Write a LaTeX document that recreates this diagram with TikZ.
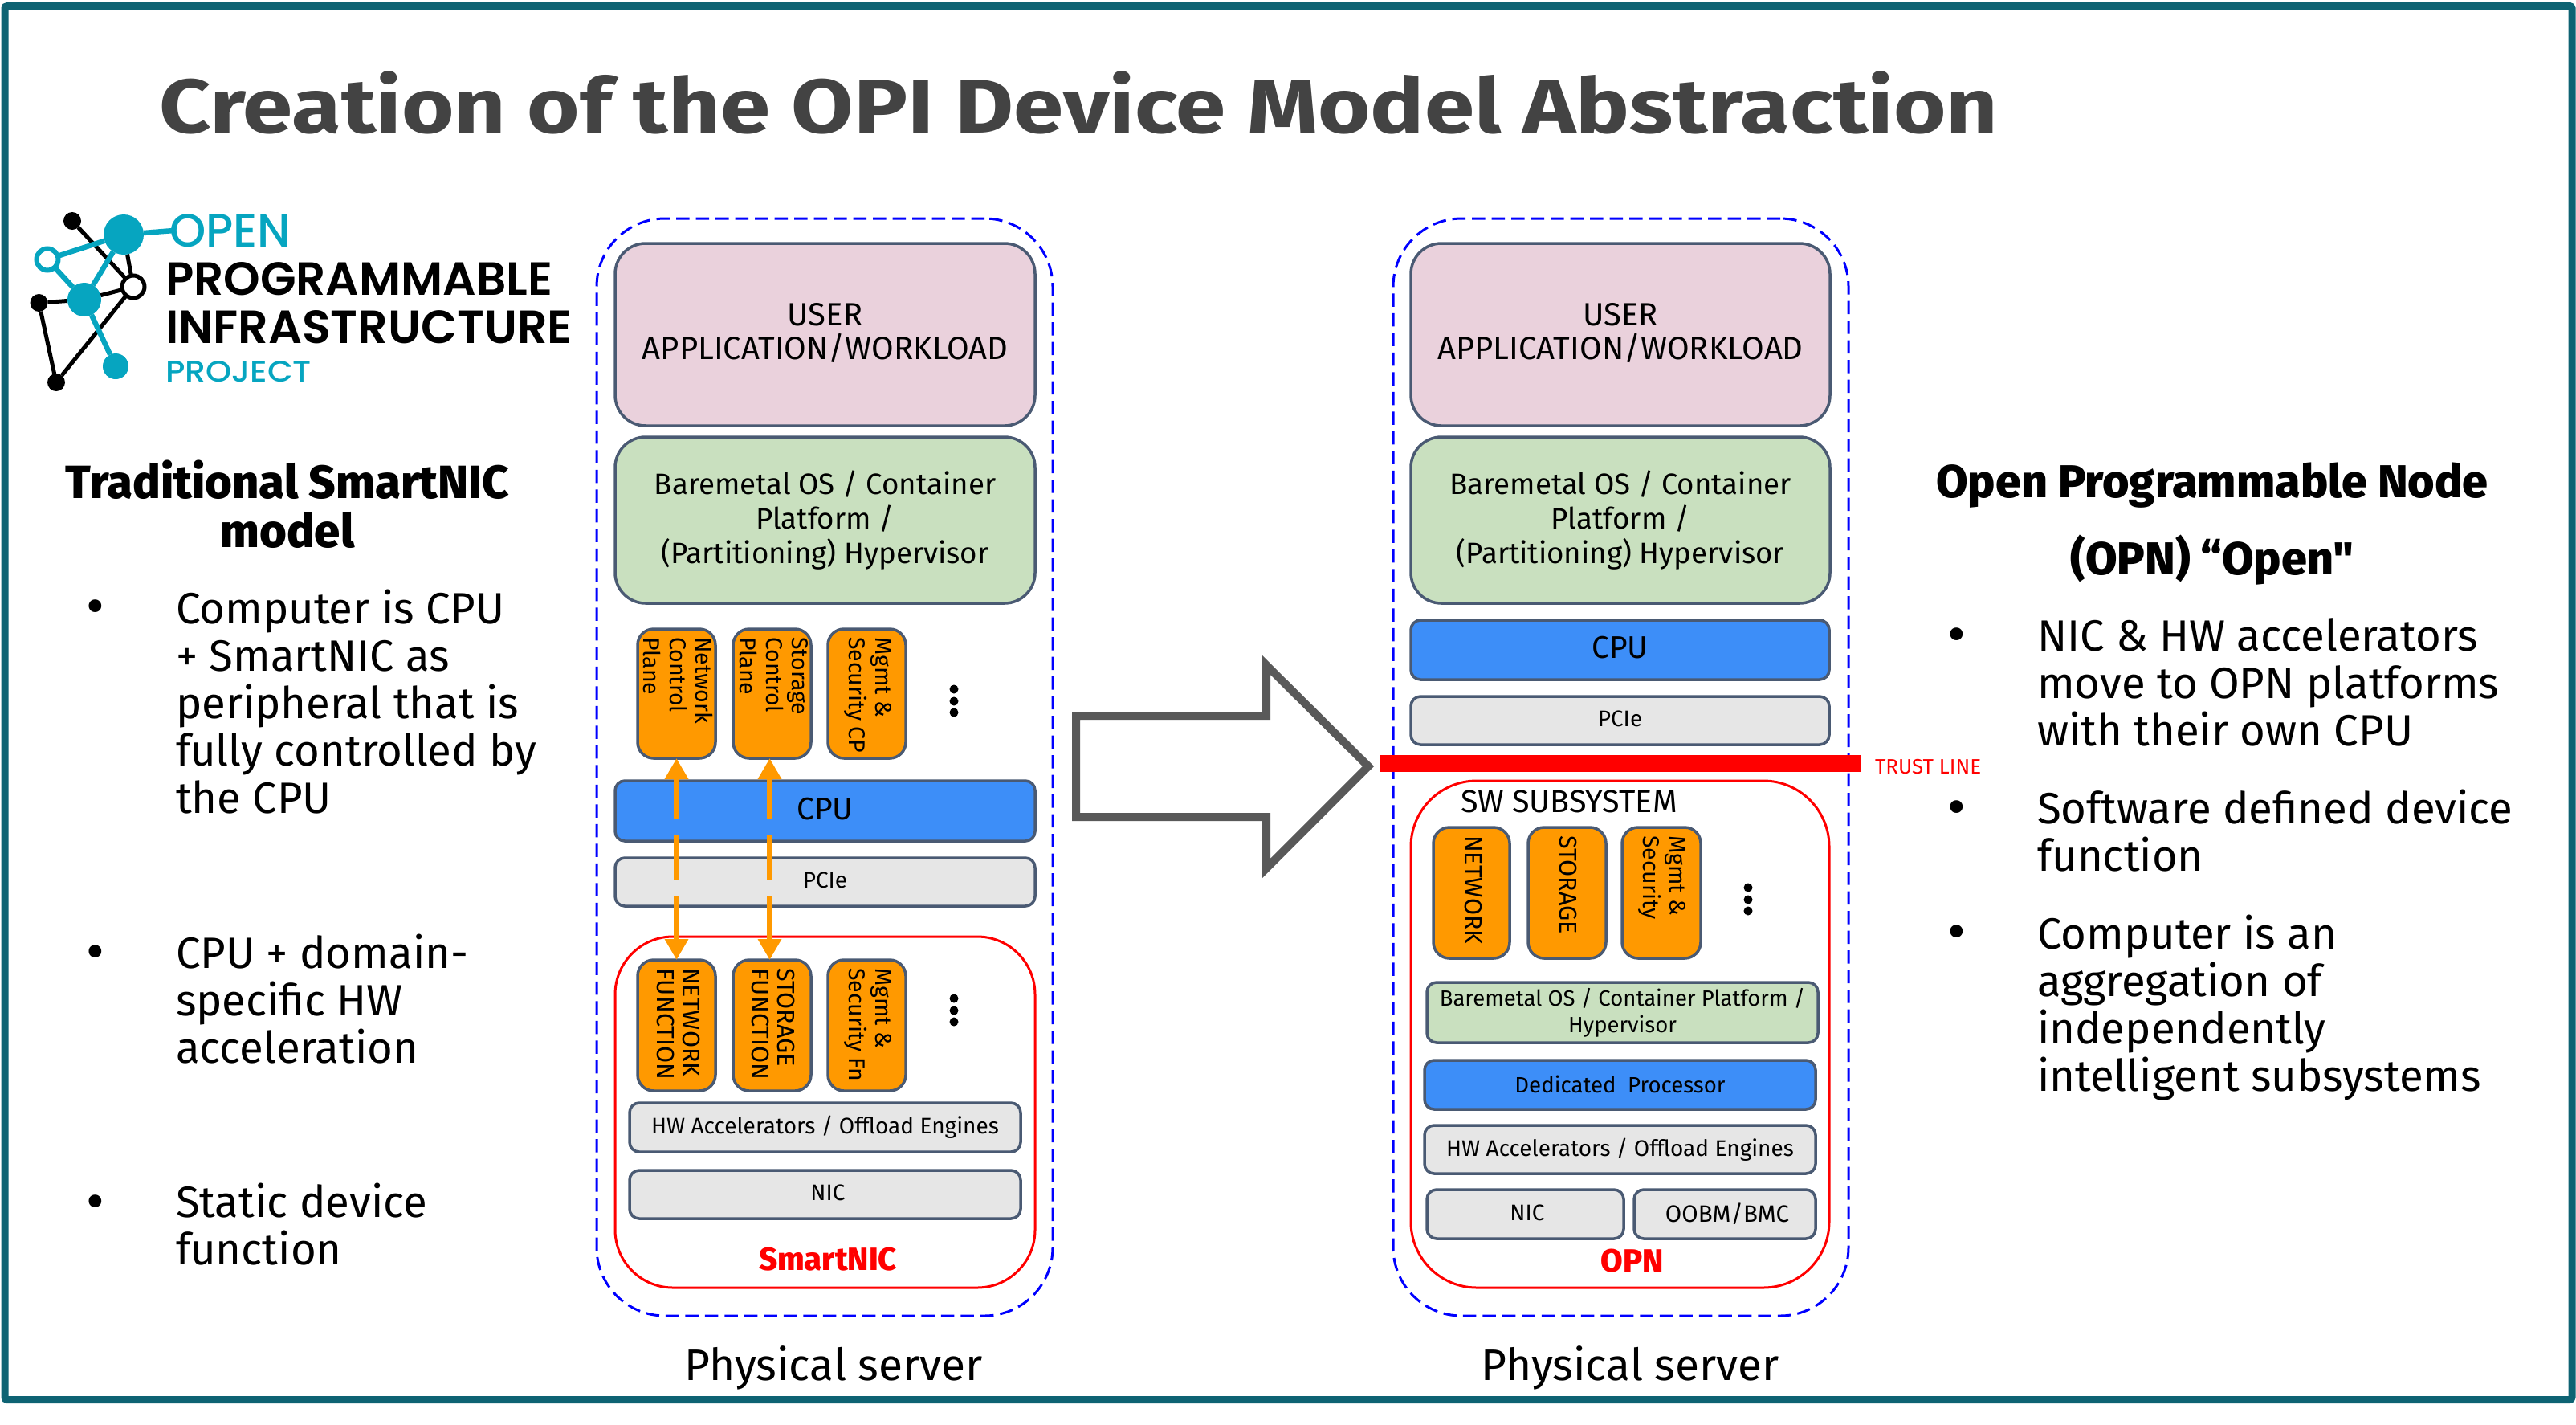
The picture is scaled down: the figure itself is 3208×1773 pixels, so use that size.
\documentclass[tikz,border=0pt]{standalone}
\usepackage{fontspec}
\usepackage{graphicx}
\usetikzlibrary{arrows.meta,backgrounds}
\setmainfont{Fira Sans}
\newfontfamily\headf{Fira Sans ExtraBold}
\newfontfamily\logofont{Poppins Medium}
\newfontfamily\logobold{Poppins SemiBold}
\definecolor{frameteal}{HTML}{0E6373}
\definecolor{titlegray}{HTML}{434343}
\definecolor{slate}{HTML}{4A5A73}
\definecolor{userpink}{HTML}{EAD1DC}
\definecolor{osgreen}{HTML}{C9E0BF}
\definecolor{cpublue}{HTML}{3D8EF8}
\definecolor{fnorange}{HTML}{FF9900}
\definecolor{hwgray}{HTML}{E6E6E6}
\definecolor{arrowgray}{HTML}{595959}
\definecolor{logoteal}{HTML}{06A5C0}
\newcommand{\fsz}[2]{\fontsize{#1}{#2}\selectfont}
\newcommand{\pbox}[7]{\node[#2,minimum width={(#5-#3)*1pt},minimum height={(#6-#4)*1pt}] (#1) at ({(#3+#5)/2},{(#4+#6)/2}) {#7};}
\newcommand{\up}[2]{\raisebox{#1pt}{#2}}
\newcommand{\fitwh}[3]{\resizebox{#1pt}{#2pt}{#3}}
\tikzset{
  every node/.style={inner sep=0pt,outer sep=0pt},
  serverbox/.style={draw=blue,line width=3pt,rounded corners=85pt,dash pattern=on 16.5pt off 8pt},
  redbox/.style={draw=red,line width=3pt,rounded corners=72pt},
  layer/.style={draw=slate,line width=3.5pt,align=center},
  userlayer/.style={layer,fill=userpink,rounded corners=38pt,font=\fsz{40}{44}},
  oslayer/.style={layer,fill=osgreen,rounded corners=38pt,font=\fsz{36.7}{43}},
  cpulayer/.style={layer,fill=cpublue,rounded corners=12pt,font=\fsz{39}{44}},
  graylayer/.style={layer,fill=hwgray,rounded corners=12pt,font=\fsz{28}{32}},
  smallgreen/.style={layer,fill=osgreen,rounded corners=12pt,font=\fsz{27.5}{33}},
  smallblue/.style={layer,fill=cpublue,rounded corners=12pt,font=\fsz{27.6}{33}},
  fnbox/.style={layer,fill=fnorange,rounded corners=20pt},
  fntext/.style={rotate=-90,anchor=west,align=left,font=\fsz{30.5}{32.5}},
  fnlower/.style={fntext,font=\fsz{28.5}{32.5}},
  vdot/.style={circle,fill=black,minimum size=11pt},
  flow/.style={draw=fnorange,line width=7pt,dash pattern=on 55pt off 20.5pt,{Triangle[length=26pt,width=28pt]}-{Triangle[length=26pt,width=28pt]}},
  bigarrow/.style={draw=arrowgray,line width=10pt,miter limit=10,fill=white},
  headtext/.style={font=\headf\fsz{58}{60},align=center},
  bodytext/.style={anchor=west,align=left,font=\fsz{54.5}{59}},
  bullettext/.style={anchor=base,font=\fsz{70}{74}},
  blackdot/.style={circle,fill=black,minimum size=22pt},
  tealdot/.style={circle,fill=logoteal},
  tealring/.style={circle,draw=logoteal,fill=white,line width=6pt,minimum size=27pt},
  blackring/.style={circle,draw=black,fill=white,line width=5pt,minimum size=28pt},
  blackedge/.style={draw=black,line width=5pt},
  tealedge/.style={draw=logoteal,line width=6.5pt},
}
\begin{document}
\begin{tikzpicture}[x=1pt,y=-1pt]
\useasboundingbox (0,0) rectangle (3208,1773);
\node[draw=frameteal,line width=9pt,rounded corners=3pt,minimum width=3197pt,minimum height=1735pt] (frame) at (1604.5,875) {};
\node[anchor=base west,text=titlegray,font=\bfseries\fsz{100}{110}] (title) at (198,165) {\fitwh{2290}{77}{Creation of the OPI Device Model Abstraction}};

% logo
\node[blackdot] (l1) at (90,275) {};
\node[tealdot,minimum size=50pt] (l2) at (154,292) {};
\node[tealring] (l3) at (59,323) {};
\node[blackring] (l4) at (166,357) {};
\node[tealdot,minimum size=42pt] (l5) at (105,373) {};
\node[blackdot] (l6) at (48.5,377) {};
\node[tealdot,minimum size=32pt] (l7) at (144,456) {};
\node[blackdot] (l8) at (70,476) {};
\coordinate (l9) at (216,287);
\begin{pgfonlayer}{background}
\draw[blackedge] (l1) -- (l4);
\draw[blackedge] (l2) -- (l4);
\draw[blackedge] (l4) -- (l5);
\draw[blackedge] (l5) -- (l6);
\draw[blackedge] (l6) -- (l8);
\draw[blackedge] (l8) -- (l4);
\draw[tealedge] (l2) -- (l3);
\draw[tealedge] (l2) -- (l5);
\draw[tealedge] (l3) -- (l5);
\draw[tealedge] (l5) -- (l7);
\draw[tealedge] (l2) -- (l9);
\end{pgfonlayer}
\node[anchor=base west,text=logoteal,font=\logofont\fsz{56}{60}] (lt1) at (211,307) {\fitwh{151}{41}{OPEN}};
\node[anchor=base west,font=\logobold\fsz{56}{60}] (lt2) at (206,367) {\fitwh{482}{41}{PROGRAMMABLE}};
\node[anchor=base west,font=\logobold\fsz{56}{60}] (lt3) at (206,427) {\fitwh{507}{41}{INFRASTRUCTURE}};
\node[anchor=base west,text=logoteal,font=\logofont\fsz{36}{40}] (lt4) at (206,475) {\fitwh{182}{26}{PROJECT}};

% left text
\node[headtext] (lh) at (358,628) {Traditional SmartNIC\\[1pt]model};
\node[bullettext] (lb1) at (119,778) {•};
\node[bodytext] (lp1) at (219,873.5) {Computer is CPU\\+ SmartNIC as\\peripheral that is\\fully controlled by\\the CPU};
\node[bullettext] (lb2) at (119,1208) {•};
\node[bodytext] (lp2) at (219,1243.5) {CPU + domain-\\specific HW\\acceleration};
\node[bullettext] (lb3) at (119,1519) {•};
\node[bodytext] (lp3) at (219,1524.5) {Static device\\function};

% left server
\pbox{srvL}{serverbox}{743}{272}{1311}{1638}{}
\pbox{nicL}{redbox}{766}{1166}{1289}{1603}{}
\pbox{userL}{userlayer}{766}{303}{1289}{530}{\up{8}{\shortstack{USER\\[6pt]APPLICATION/WORKLOAD}}}
\pbox{osL}{oslayer}{766}{544}{1289}{751}{\up{5}{\parbox{440pt}{\centering Baremetal OS / Container\\Platform /\\(Partitioning) Hypervisor}}}
\pbox{ncp}{fnbox}{794}{783}{891}{944}{}
\pbox{scp}{fnbox}{913}{783}{1010}{944}{}
\pbox{mcp}{fnbox}{1031}{783}{1128}{944}{}
\node[fnlower] (tncp) at (845,793) {Network\\Control\\Plane};
\node[fnlower] (tscp) at (964,793) {Storage\\Control\\Plane};
\node[fnlower] (tmcp) at (1081,793) {Mgmt \&\\Security CP};
\node[vdot] (d1) at (1188,858) {};
\node[vdot] (d2) at (1188,873) {};
\node[vdot] (d3) at (1188,887) {};
\pbox{cpuL}{cpulayer}{766}{972}{1289}{1047}{\up{5}{CPU}}
\pbox{pcieL}{graylayer}{766}{1068}{1289}{1128}{\up{4}{PCIe}}
\pbox{nf}{fnbox}{794}{1195}{891}{1358}{}
\pbox{sf}{fnbox}{913}{1195}{1010}{1358}{}
\pbox{mf}{fnbox}{1031}{1195}{1128}{1358}{}
\node[fntext] (tnf) at (845,1205) {NETWORK\\FUNCTION};
\node[fntext] (tsf) at (963,1205) {STORAGE\\FUNCTION};
\node[fnlower] (tmf) at (1081,1205) {Mgmt \&\\Security Fn};
\node[vdot] (d4) at (1188,1243) {};
\node[vdot] (d5) at (1188,1258) {};
\node[vdot] (d6) at (1188,1272) {};
\pbox{hwL}{graylayer}{784}{1373}{1271}{1434}{\up{3}{HW Accelerators / Offload Engines}}
\pbox{nL}{graylayer}{784}{1457}{1271}{1517}{\up{4}{\hspace{7pt}NIC}}
\node[text=red,font=\headf\fsz{40}{44}] (snic) at (1031,1568) {SmartNIC};
\node[font=\fsz{55}{60}] (psL) at (1038,1703) {Physical server};
\draw[flow] (nf.north) -- (ncp.south);
\draw[flow] ([xshift=-3pt]sf.north) -- ([xshift=-3pt]scp.south);

% big arrow
\coordinate (a1) at (1340,891);
\coordinate (a2) at (1577,891);
\coordinate (a3) at (1577,828);
\coordinate (a4) at (1704,954);
\coordinate (a5) at (1577,1081);
\coordinate (a6) at (1577,1017);
\coordinate (a7) at (1340,1017);
\draw[bigarrow] (a1) -- (a2) -- (a3) -- (a4) -- (a5) -- (a6) -- (a7) -- cycle;

% right server
\pbox{srvR}{serverbox}{1735}{272}{2302}{1638}{}
\pbox{opnR}{redbox,rounded corners=82pt}{1757}{972}{2278}{1603}{}
\pbox{userR}{userlayer}{1757}{303}{2279}{530}{\up{8}{\shortstack{USER\\[6pt]APPLICATION/WORKLOAD}}}
\pbox{osR}{oslayer}{1757}{544}{2279}{751}{\up{5}{\parbox{440pt}{\centering Baremetal OS / Container\\Platform /\\(Partitioning) Hypervisor}}}
\pbox{cpuR}{cpulayer}{1757}{772}{2278}{846}{\up{6}{CPU}}
\pbox{pcieR}{graylayer}{1757}{867}{2278}{927}{\up{4}{PCIe}}
\node[fill=red,minimum width=600pt,minimum height=21pt] (trust) at (2018,950.5) {};
\node[anchor=west,text=red,font=\fsz{26}{30}] (trustt) at (2335,955) {TRUST LINE};
\node[anchor=west,font=\fsz{39.5}{44}] (sw) at (1819,998) {SW SUBSYSTEM};
\pbox{netb}{fnbox}{1785}{1030}{1880}{1193}{}
\pbox{stob}{fnbox}{1903}{1030}{2000}{1193}{}
\pbox{mgb}{fnbox}{2020}{1030}{2118}{1193}{}
\node[fntext] (tnet) at (1835,1040) {NETWORK};
\node[fntext] (tsto) at (1953,1040) {STORAGE};
\node[fnlower] (tmg) at (2070,1040) {Mgmt \&\\Security};
\node[vdot] (d7) at (2177,1105) {};
\node[vdot] (d8) at (2177,1120) {};
\node[vdot] (d9) at (2177,1134) {};
\pbox{os2}{smallgreen}{1777}{1223}{2264}{1298}{\up{3}{\parbox{480pt}{\centering Baremetal OS / Container Platform /\\Hypervisor}}}
\pbox{ded}{smallblue}{1774}{1320}{2261}{1381}{\up{2}{Dedicated\ \ Processor}}
\pbox{hwR}{graylayer}{1774}{1401}{2261}{1461}{\up{3}{HW Accelerators / Offload Engines}}
\pbox{nR}{graylayer}{1777}{1481}{2022}{1542}{\up{4}{\hspace{5pt}NIC}}
\pbox{oob}{graylayer,font=\fsz{29.5}{32}}{2035}{1481}{2261}{1542}{\up{4}{\hspace{6pt}OOBM/BMC}}
\node[text=red,font=\headf\fsz{40}{44}] (opn) at (2033,1570) {OPN};
\node[font=\fsz{55}{60}] (psR) at (2030,1703) {Physical server};

% right text
\node[headtext,font=\headf\fsz{57.4}{96}] (rh) at (2755,652) {Open Programmable Node\\(OPN) “Open"};
\node[bullettext] (rb1) at (2437,813) {•};
\node[bodytext] (rp1) at (2537,849) {NIC \& HW accelerators\\move to OPN platforms\\with their own CPU};
\node[bullettext] (rb2) at (2437,1028) {•};
\node[bodytext] (rp2) at (2537,1034) {Software defined device\\function};
\node[bullettext] (rb3) at (2437,1183) {•};
\node[bodytext] (rp3) at (2537,1255) {Computer is an\\aggregation of\\independently\\intelligent subsystems};
\end{tikzpicture}
\end{document}
